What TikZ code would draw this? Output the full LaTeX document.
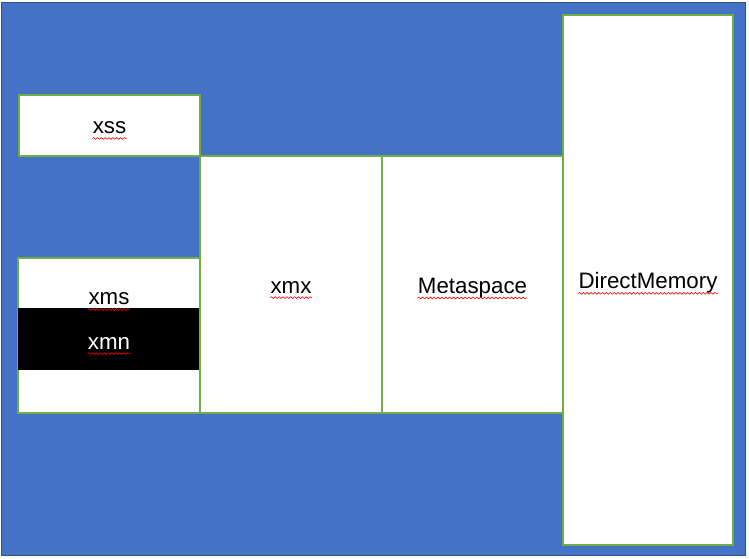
\documentclass[tikz,border=0pt]{standalone}
\usepackage{fontspec}
\setmainfont{Liberation Sans}
\usetikzlibrary{decorations.pathmorphing}

\definecolor{slideblue}{HTML}{4472C4}
\definecolor{slideedge}{HTML}{2F528F}
\definecolor{boxgreen}{HTML}{70AD47}

\tikzset{
  membox/.style={rectangle, draw=boxgreen, fill=white, line width=0.7pt, inner sep=0pt},
  memtext/.style={inner sep=0pt, font=\fontsize{12.7}{15}\selectfont},
  spell/.style={red, line width=0.35pt, decorate,
    decoration={snake, segment length=2.2pt, amplitude=0.5pt}}
}

\begin{document}
\begin{tikzpicture}[x=0.02cm, y=-0.02cm]

\useasboundingbox (0,0) rectangle (749,558);
\draw[fill=slideblue, draw=slideedge, line width=0.9pt] (1.5,2.5) rectangle (745.5,555.5);

% left column
\draw (109.5,125.5) node (boxXss) [membox, minimum width=3.62cm, minimum height=1.22cm] {} ;
\draw (109,335.5)   node (boxXms) [membox, minimum width=3.64cm, minimum height=3.10cm] {} ;
\draw (109,339)     node (boxXmn) [rectangle, fill=black, inner sep=0pt, minimum width=3.66cm, minimum height=1.24cm] {} ;

% middle and right columns
\draw (291,284.5)   node (boxXmx)  [membox, minimum width=3.64cm, minimum height=5.14cm] {} ;
\draw (472.5,284.5) node (boxMeta) [membox, minimum width=3.62cm, minimum height=5.14cm] {} ;
\draw (648,280)     node (boxDirect) [membox, minimum width=3.40cm, minimum height=10.60cm] {} ;

% labels
\node (xss)    [memtext] at (109.5,128)        {xss} ;
\node (xms)    [memtext] at (109,299)          {xms} ;
\node (xmn)    [memtext, white] at (109,343)   {xmn} ;
\node (xmx)    [memtext] at (291,287)          {xmx} ;
\node (meta)   [memtext] at (472.5,288)        {Metaspace} ;
\node (direct) [memtext] at (648,283)          {DirectMemory} ;

% spell check marks
\foreach \w in {xss, xms, xmn, xmx, meta, direct}
  \draw[spell] ([yshift=-2.6pt]\w.base west) -- ([yshift=-2.6pt]\w.base east) ;

\end{tikzpicture}
\end{document}
